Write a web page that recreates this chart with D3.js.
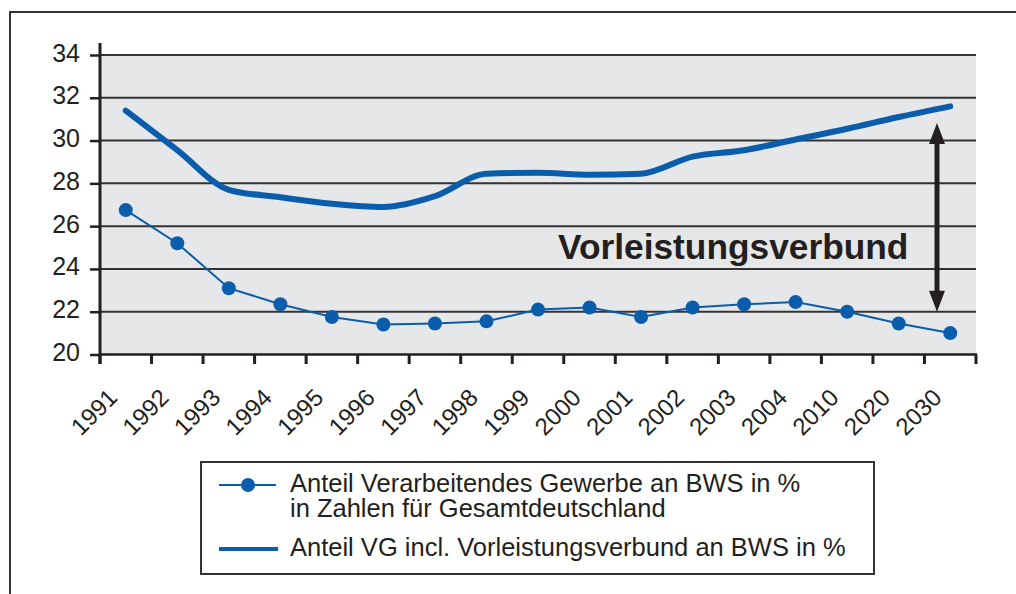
<!doctype html>
<html>
<head>
<meta charset="UTF-8">
<title>Vorleistungsverbund</title>
<script src="https://d3js.org/d3.v7.min.js"></script>
<style>
  body { margin: 0; background: #fff; }
  text { font-family: "Liberation Sans", Arial, Helvetica, sans-serif; fill: #231f20; }
</style>
</head>
<body>
<svg id="chart" width="1016" height="594"></svg>
<script>
// categories (x axis)
var years = ["1991","1992","1993","1994","1995","1996","1997","1998","1999",
             "2000","2001","2002","2003","2004","2010","2020","2030"];
// Anteil Verarbeitendes Gewerbe an BWS in %
var anteilVG = [26.75, 25.2, 23.1, 22.35, 21.75, 21.4, 21.45, 21.55, 22.1,
                22.2, 21.75, 22.2, 22.35, 22.45, 22.0, 21.45, 21.0];
// Anteil VG incl. Vorleistungsverbund an BWS in %
var anteilVerbund = [31.4, 29.55, 27.7, 27.35, 27.05, 26.9, 27.4, 28.45, 28.5,
                     28.4, 28.45, 29.25, 29.55, 30.05, 30.55, 31.1, 31.6];
var yTicks = [20, 22, 24, 26, 28, 30, 32, 34];
var legendLabels = [["Anteil Verarbeitendes Gewerbe an BWS in %", "in Zahlen für Gesamtdeutschland"],
                    ["Anteil VG incl. Vorleistungsverbund an BWS in %"]];
var annotation = "Vorleistungsverbund";

var blue = "#0a5dab", ink = "#231f20";
var svg = d3.select("#chart");

// outer frame (runs off to the right and bottom)
svg.append("path").attr("d", "M10,600 V12 H1020")
   .attr("fill", "none").attr("stroke", "#333").attr("stroke-width", 2);

var x = d3.scaleBand().domain(years).range([100, 976]);
var y = d3.scaleLinear().domain([20, 34]).range([354.5, 55]);
var cx = function(d, i){ return x(years[i]) + x.bandwidth() / 2; };

// plot background
svg.append("rect").attr("x", 100).attr("y", y(34))
   .attr("width", 876).attr("height", y(20) - y(34)).attr("fill", "#e6e7e9");

// grid lines
svg.selectAll("line.grid").data(yTicks.slice(1)).enter().append("line")
   .attr("class", "grid")
   .attr("x1", 100).attr("x2", 976)
   .attr("y1", function(d){ return y(d); }).attr("y2", function(d){ return y(d); })
   .attr("stroke", "#333").attr("stroke-width", 2);

// y axis
var yAxis = svg.append("g").attr("transform", "translate(100,0)")
   .call(d3.axisLeft(y).tickValues(yTicks).tickSize(10).tickPadding(10).tickSizeOuter(0));
yAxis.select(".domain").remove();
yAxis.selectAll("line").attr("stroke", ink).attr("stroke-width", 2.5);
yAxis.selectAll("text").attr("font-size", 25).attr("dy", "0.24em")
     .attr("font-family", "Liberation Sans, Arial, sans-serif").attr("fill", ink);
svg.append("line").attr("x1", 100).attr("x2", 100).attr("y1", 43).attr("y2", 364)
   .attr("stroke", ink).attr("stroke-width", 3);

// x axis: ticks at band boundaries, labels rotated
svg.append("line").attr("x1", 100).attr("x2", 977).attr("y1", y(20)).attr("y2", y(20))
   .attr("stroke", ink).attr("stroke-width", 2.5);
var bounds = years.map(function(d){ return x(d); }).concat([x.range()[1]]);
svg.selectAll("line.xtick").data(bounds).enter().append("line")
   .attr("class", "xtick")
   .attr("x1", function(d){ return d; }).attr("x2", function(d){ return d; })
   .attr("y1", y(20)).attr("y2", 364)
   .attr("stroke", ink).attr("stroke-width", 3);
svg.selectAll("text.xlab").data(years).enter().append("text")
   .attr("class", "xlab")
   .attr("text-anchor", "end")
   .attr("font-size", 24)
   .attr("transform", function(d){
       return "translate(" + (x(d) + x.bandwidth() / 2 - 7) + ",399) rotate(-45)";
   })
   .text(function(d){ return d; });

// thick line
var line = d3.line().x(cx).y(function(d){ return y(d); }).curve(d3.curveMonotoneX);
svg.append("path").datum(anteilVerbund).attr("d", line)
   .attr("fill", "none").attr("stroke", blue).attr("stroke-width", 6)
   .attr("stroke-linecap", "round").attr("stroke-linejoin", "round");

// thin line with dots
var line2 = d3.line().x(cx).y(function(d){ return y(d); });
svg.append("path").datum(anteilVG).attr("d", line2)
   .attr("fill", "none").attr("stroke", blue).attr("stroke-width", 2);
svg.selectAll("circle.pt").data(anteilVG).enter().append("circle")
   .attr("class", "pt")
   .attr("cx", cx).attr("cy", function(d){ return y(d); })
   .attr("r", 7).attr("fill", blue);

// annotation text and double arrow
svg.append("text").attr("x", 558).attr("y", 259)
   .attr("font-size", 35.3).attr("font-weight", "bold").attr("fill", ink)
   .text(annotation);
var ax = 937, aTop = 123, aBot = y(22);
svg.append("line").attr("x1", ax).attr("x2", ax).attr("y1", aTop + 15).attr("y2", aBot - 15)
   .attr("stroke", ink).attr("stroke-width", 5);
svg.append("path").attr("fill", ink)
   .attr("d", "M" + ax + "," + aTop + " L" + (ax + 8) + "," + (aTop + 21) + " L" + (ax - 8) + "," + (aTop + 21) + "Z");
svg.append("path").attr("fill", ink)
   .attr("d", "M" + ax + "," + aBot + " L" + (ax + 8) + "," + (aBot - 21) + " L" + (ax - 8) + "," + (aBot - 21) + "Z");

// legend
var lg = svg.append("g");
lg.append("rect").attr("x", 201).attr("y", 462).attr("width", 673).attr("height", 112)
  .attr("fill", "#fff").attr("stroke", "#333").attr("stroke-width", 2);
lg.append("line").attr("x1", 219).attr("x2", 276).attr("y1", 485).attr("y2", 485)
  .attr("stroke", blue).attr("stroke-width", 2);
lg.append("circle").attr("cx", 248).attr("cy", 485).attr("r", 7).attr("fill", blue);
lg.append("line").attr("x1", 219).attr("x2", 278).attr("y1", 549).attr("y2", 549)
  .attr("stroke", blue).attr("stroke-width", 4);
lg.append("text").attr("x", 290).attr("y", 492).attr("font-size", 25.5)
  .selectAll("tspan").data(legendLabels[0]).enter().append("tspan")
  .attr("x", 290).attr("dy", function(d, i){ return i ? 25 : 0; })
  .text(function(d){ return d; });
lg.append("text").attr("x", 290).attr("y", 556).attr("font-size", 25.5)
  .text(legendLabels[1][0]);
</script>
</body>
</html>
